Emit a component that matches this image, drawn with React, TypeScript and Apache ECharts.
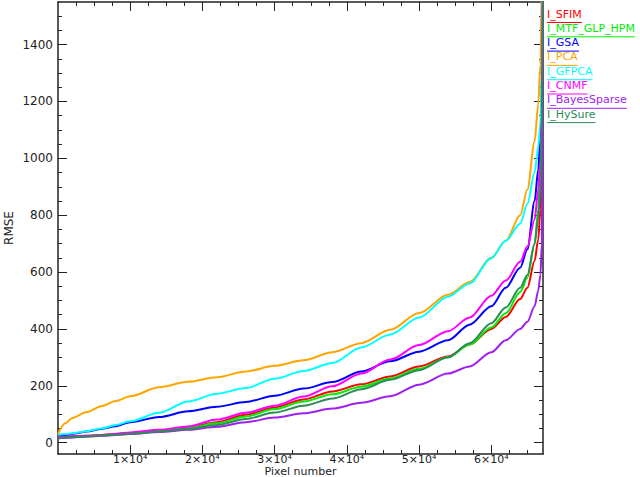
import React, { useEffect, useRef } from "react";
import * as echarts from "echarts";

// Pixel number (sorted pixel index)
const pixelNumbers = [0, 1000, 2000, 4000, 6000, 8000, 10000, 14000, 18000, 22000, 26000, 30000, 34000, 38000, 42000, 46000, 50000, 54000, 57000, 60000, 62000, 64000, 65000, 66000, 66500, 66800, 67000, 67160];

// RMSE values per method
const sfim = [18, 20, 22, 24, 27, 30, 34, 43, 54, 72, 98, 124, 152, 180, 205, 233, 268, 303, 345, 400, 442, 505, 545, 640, 714, 820, 1000, 1800];
const mtfGlpHpm = [17, 19, 21, 23, 26, 29, 32, 41, 51, 68, 92, 118, 145, 170, 197, 226, 260, 300, 345, 405, 455, 530, 580, 700, 820, 1000, 1300, 1800];
const gsa = [22, 26, 31, 39, 48, 58, 72, 90, 110, 126, 143, 165, 190, 213, 250, 286, 320, 360, 415, 480, 545, 615, 680, 850, 960, 1070, 1250, 1800];
const pca = [30, 68, 87, 108, 128, 146, 163, 195, 214, 230, 250, 270, 290, 318, 350, 397, 456, 520, 565, 650, 710, 800, 890, 1060, 1190, 1330, 1600, 2000];
const gfpca = [28, 30, 33, 40, 50, 62, 75, 105, 145, 172, 192, 225, 252, 280, 335, 380, 440, 513, 560, 649, 710, 770, 840, 950, 1040, 1120, 1300, 1800];
const cnmf = [20, 21, 22, 24, 27, 31, 36, 45, 57, 81, 105, 130, 162, 198, 243, 292, 343, 392, 440, 517, 570, 636, 690, 785, 890, 990, 1150, 1800];
const bayesSparse = [15, 17, 18, 21, 24, 27, 30, 37, 45, 56, 72, 88, 103, 120, 140, 163, 204, 243, 268, 318, 360, 400, 425, 480, 535, 590, 700, 1600];
const hySure = [16, 18, 19, 22, 25, 28, 31, 39, 48, 62, 83, 106, 130, 155, 188, 221, 255, 300, 350, 420, 475, 545, 590, 700, 790, 900, 1100, 1800];

const seriesNames = ["I_SFIM", "I_MTF_GLP_HPM", "I_GSA", "I_PCA", "I_GFPCA", "I_CNMF", "I_BayesSparse", "I_HySure"];
const seriesValues = [sfim, mtfGlpHpm, gsa, pca, gfpca, cnmf, bayesSparse, hySure];
const seriesColors = ["#ff0000", "#00ee00", "#0000ff", "#ffa500", "#00ffff", "#ff00ff", "#a020f0", "#2e8b57"];

// Ticks
const xMajorTicks = [10000, 20000, 30000, 40000, 50000, 60000];
const xMinorTicks = [2500, 5000, 7500, 12500, 15000, 17500, 22500, 25000, 27500, 32500, 35000, 37500, 42500, 45000, 47500, 52500, 55000, 57500, 62500, 65000];
const yMajorTicks = [0, 200, 400, 600, 800, 1000, 1200, 1400];
const yMinorTicks = [50, 100, 150, 250, 300, 350, 450, 500, 550, 650, 700, 750, 850, 900, 950, 1050, 1100, 1150, 1250, 1300, 1350, 1450, 1500];

const X_MIN = 0;
const X_MAX = 67160;
const Y_MIN = -40;
const Y_MAX = 1550;

const FONT = "DejaVu Sans";
const AXIS_COLOR = "#222";

export default function App() {
  const ref = useRef<HTMLDivElement>(null);

  useEffect(() => {
    if (!ref.current) return;
    const chart = echarts.init(ref.current, undefined, { renderer: "svg" });

    const lineStyle = { color: AXIS_COLOR, width: 1.5 };

    const mkX = (pos: "bottom" | "top", ticks: number[], len: number, showLine: boolean, labels: boolean) => ({
      type: "value",
      position: pos,
      min: X_MIN,
      max: X_MAX,
      axisLine: { show: showLine, onZero: false, lineStyle },
      axisTick: { show: true, inside: true, length: len, customValues: ticks, lineStyle: { color: AXIS_COLOR, width: 1 } },
      axisLabel: labels
        ? {
            show: true,
            customValues: ticks,
            formatter: (v: number) => `${v / 10000}×10⁴`,
            margin: 0,
            fontSize: 11,
            lineHeight: 11,
            fontFamily: FONT,
            color: AXIS_COLOR,
          }
        : { show: false },
      splitLine: { show: false },
      ...(labels
        ? {
            name: "Pixel number",
            nameLocation: "middle",
            nameGap: 12,
            nameMoveOverlap: false,
            nameTextStyle: { fontSize: 11, lineHeight: 11, fontFamily: FONT, color: AXIS_COLOR, verticalAlign: "top" },
          }
        : {}),
    });

    const mkY = (pos: "left" | "right", ticks: number[], len: number, showLine: boolean, labels: boolean) => ({
      type: "value",
      position: pos,
      min: Y_MIN,
      max: Y_MAX,
      axisLine: { show: showLine, onZero: false, lineStyle },
      axisTick: { show: true, inside: true, length: len, customValues: ticks, lineStyle: { color: AXIS_COLOR, width: 1 } },
      axisLabel: labels
        ? {
            show: true,
            customValues: ticks,
            formatter: (v: number) => String(v),
            margin: 5,
            fontSize: 12,
            fontFamily: FONT,
            color: AXIS_COLOR,
          }
        : { show: false },
      splitLine: { show: false },
      ...(labels
        ? {
            name: "RMSE",
            nameLocation: "middle",
            nameRotate: 90,
            nameGap: 43,
            nameMoveOverlap: false,
            nameTextStyle: { fontSize: 12, fontFamily: FONT, color: AXIS_COLOR },
          }
        : {}),
    });

    // Legend built as graphic text with underline
    const legendFont = `11px "${FONT}"`;
    const canvas = document.createElement("canvas");
    const ctx = canvas.getContext("2d");
    if (ctx) ctx.font = legendFont;
    const graphic: any[] = [];
    seriesNames.forEach((name, i) => {
      const yc = 14 + i * 14.3;
      const w = ctx ? ctx.measureText(name).width : name.length * 7;
      graphic.push({
        type: "text",
        x: 547,
        y: yc,
        style: { text: name, fill: seriesColors[i], fontSize: 11, fontFamily: FONT, align: "left", verticalAlign: "middle" },
      });
      graphic.push({
        type: "line",
        shape: { x1: 547, y1: yc + 8.5, x2: 547 + w, y2: yc + 8.5 },
        style: { stroke: seriesColors[i], lineWidth: 1 },
      });
    });

    chart.setOption({
      animation: false,
      backgroundColor: "#ffffff",
      grid: { left: 58, right: 97, top: 2, bottom: 23, containLabel: false, outerBoundsMode: "none" },
      xAxis: [
        mkX("bottom", xMajorTicks, 9, true, true),
        mkX("bottom", xMinorTicks, 4, false, false),
        mkX("top", xMajorTicks, 9, true, false),
        mkX("top", xMinorTicks, 4, false, false),
      ],
      yAxis: [
        mkY("left", yMajorTicks, 9, true, true),
        mkY("left", yMinorTicks, 4, false, false),
        mkY("right", yMajorTicks, 9, true, false),
        mkY("right", yMinorTicks, 4, false, false),
      ],
      series: seriesNames.map((name, i) => ({
        name,
        type: "line",
        xAxisIndex: 0,
        yAxisIndex: 0,
        data: pixelNumbers.map((x, j) => [x, seriesValues[i][j]]),
        showSymbol: false,
        smooth: 0.3,
        smoothMonotone: "x",
        clip: true,
        lineStyle: { color: seriesColors[i], width: 2 },
        itemStyle: { color: seriesColors[i] },
      })),
      graphic,
    });

    return () => chart.dispose();
  }, []);

  return <div ref={ref} style={{ position: "absolute", left: 0, top: 0, width: 640, height: 477 }} />;
}
